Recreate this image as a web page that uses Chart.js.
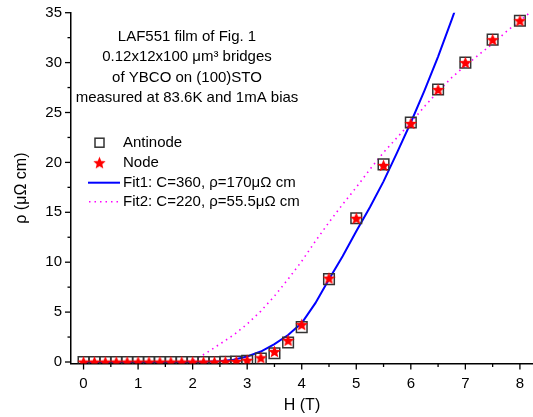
<!DOCTYPE html>
<html>
<head>
<meta charset="utf-8">
<script src="https://cdn.jsdelivr.net/npm/chart.js@4.4.0/dist/chart.umd.min.js"></script>
<style>
  body { margin: 0; background: #fff; }
  #wrap { width: 533px; height: 417px; }
</style>
</head>
<body>
<div id="wrap"><canvas id="rho" width="533" height="417"></canvas></div>
<script>
// measured points (H in tesla, rho in micro-ohm cm)
const hPts = [0, 0.2, 0.4, 0.6, 0.8, 1.0, 1.2, 1.4, 1.6, 1.8, 2.0, 2.2, 2.4, 2.6, 2.8, 3.0, 3.25, 3.5, 3.75, 4.0, 4.5, 5.0, 5.5, 6.0, 6.5, 7.0, 7.5, 8.0];
const rhoAntinode = [0, 0, 0, 0, 0, 0, 0, 0, 0, 0, 0, 0, 0, 0.02, 0.05, 0.12, 0.35, 0.87, 1.95, 3.5, 8.3, 14.4, 19.8, 24.0, 27.3, 30.0, 32.3, 34.2];
const rhoNode = [0, 0, 0, 0, 0, 0, 0, 0, 0, 0, 0, 0, 0, 0.03, 0.06, 0.17, 0.42, 1.05, 2.17, 3.75, 8.4, 14.4, 19.7, 23.9, 27.3, 30.0, 32.3, 34.2];

// fit curves
const fitH = [0, 0.25, 0.5, 0.75, 1.0, 1.25, 1.5, 1.75, 2.0, 2.25, 2.5, 2.75, 3.0, 3.25, 3.5, 3.75, 4.0, 4.25, 4.5, 4.75, 5.0, 5.25, 5.5, 5.75, 6.0, 6.25, 6.5, 6.75, 7.0, 7.25, 7.5, 7.75, 8.0, 8.25];
const fit1 = [0, 0, 0, 0, 0, 0, 0, 0, 0.01, 0.03, 0.08, 0.22, 0.55, 1.05, 1.8, 2.7, 3.9, 5.9, 8.3, 10.6, 13.1, 15.5, 18.1, 21.0, 24.0, 27.2, 30.6, 34.3, 38.2, null, null, null, null, null];
const fit2 = [0, 0, 0, 0, 0, 0, 0, 0, 0.1, 0.9, 1.8, 2.7, 3.8, 5.1, 6.6, 8.3, 10.1, 12.1, 14.0, 15.8, 17.5, 19.3, 21.0, 22.5, 24.0, 25.6, 27.1, 28.5, 29.7, 30.8, 31.9, 33.1, 34.2, 35.3];

const xMajor = [0, 1, 2, 3, 4, 5, 6, 7, 8];
const xMinor = [0.5, 1.5, 2.5, 3.5, 4.5, 5.5, 6.5, 7.5];
const yMajor = [0, 5, 10, 15, 20, 25, 30, 35];
const yMinor = [2.5, 7.5, 12.5, 17.5, 22.5, 27.5, 32.5];

const noteLines = ['LAF551 film of Fig. 1', '0.12x12x100 \u03bcm\u00b3 bridges', 'of YBCO on (100)STO', 'measured at 83.6K and 1mA bias'];
const legendLabels = ['Antinode', 'Node', 'Fit1: C=360, \u03c1=170\u03bc\u03a9 cm', 'Fit2: C=220, \u03c1=55.5\u03bc\u03a9 cm'];

const FONT = '"Liberation Sans", Arial, sans-serif';

// filled red star, chart.js "star" is only strokes
function makeStar(size, color) {
  const c = document.createElement('canvas');
  c.width = size; c.height = size;
  const g = c.getContext('2d');
  const cx = size / 2, cy = size / 2 + 0.5;
  const ro = size / 2, ri = ro * 0.45;
  g.beginPath();
  for (let i = 0; i < 10; i++) {
    const r = i % 2 ? ri : ro;
    const a = -Math.PI / 2 + i * Math.PI / 5;
    g.lineTo(cx + r * Math.cos(a), cy + r * Math.sin(a));
  }
  g.closePath();
  g.fillStyle = color;
  g.fill();
  return c;
}
const star = makeStar(13, '#ff0000');

const pairs = (xs, ys) => xs.map((x, i) => ({ x: x, y: ys[i] }));

// no label padding from the scales, the plot box is fixed
const fixPad = s => { s.paddingTop = 0; s.paddingBottom = 0; s.paddingLeft = 0; s.paddingRight = 0; };

const extras = {
  id: 'extras',
  afterDraw(chart) {
    const ctx = chart.ctx;
    const xs = chart.scales.x, ys = chart.scales.y;
    const area = chart.chartArea;
    ctx.save();
    ctx.strokeStyle = '#000';
    ctx.lineWidth = 1.3;
    // tick marks, pointing out of the plot
    const tickX = (v, len) => {
      const p = xs.getPixelForValue(v);
      ctx.beginPath(); ctx.moveTo(p, area.bottom); ctx.lineTo(p, area.bottom + len); ctx.stroke();
    };
    const tickY = (v, len) => {
      const p = ys.getPixelForValue(v);
      ctx.beginPath(); ctx.moveTo(area.left, p); ctx.lineTo(area.left - len, p); ctx.stroke();
    };
    xMajor.forEach(v => tickX(v, 6));
    xMinor.forEach(v => tickX(v, 3.5));
    yMajor.forEach(v => tickY(v, 6));
    yMinor.forEach(v => tickY(v, 3.5));

    ctx.fillStyle = '#000';
    ctx.font = '15px ' + FONT;
    ctx.textBaseline = 'middle';

    // note in the upper left
    ctx.textAlign = 'center';
    noteLines.forEach((t, i) => ctx.fillText(t, 187, 37 + i * 20.3));

    // legend
    const rows = [142.7, 162.7, 182.7, 201.7];
    ctx.textAlign = 'left';
    legendLabels.forEach((t, i) => ctx.fillText(t, 123, rows[i]));
    ctx.strokeStyle = '#333';
    ctx.lineWidth = 1.5;
    ctx.strokeRect(95, rows[0] - 4.5, 9, 9);
    ctx.drawImage(star, 93, rows[1] - 6.5);
    ctx.strokeStyle = '#0000ff';
    ctx.lineWidth = 2;
    ctx.beginPath(); ctx.moveTo(88, rows[2]); ctx.lineTo(120, rows[2]); ctx.stroke();
    ctx.strokeStyle = '#ff00ff';
    ctx.lineWidth = 1.6;
    ctx.setLineDash([1.5, 4]);
    ctx.beginPath(); ctx.moveTo(89, rows[3]); ctx.lineTo(120, rows[3]); ctx.stroke();
    ctx.setLineDash([]);

    // axis titles
    ctx.textAlign = 'center';
    ctx.font = '16px ' + FONT;
    ctx.fillText('H (T)', (area.left + area.right) / 2, 406);
    ctx.translate(22, (area.top + area.bottom) / 2);
    ctx.rotate(-Math.PI / 2);
    ctx.fillText('\u03c1 (\u03bc\u03a9 cm)', 0, 0);
    ctx.restore();
  }
};

new Chart(document.getElementById('rho'), {
  type: 'scatter',
  data: {
    datasets: [
      {
        label: 'Fit1',
        data: pairs(fitH, fit1),
        showLine: true,
        pointRadius: 0,
        borderColor: '#0000ff',
        borderWidth: 2,
        spanGaps: false,
        order: 3
      },
      {
        label: 'Fit2',
        data: pairs(fitH, fit2),
        showLine: true,
        pointRadius: 0,
        borderColor: '#ff00ff',
        borderWidth: 1.6,
        borderDash: [1.5, 4],
        order: 4
      },
      {
        label: 'Antinode',
        data: pairs(hPts, rhoAntinode),
        pointStyle: 'rect',
        pointRadius: 7.5,
        borderColor: '#333',
        borderWidth: 1.5,
        backgroundColor: 'rgba(0,0,0,0)',
        order: 2
      },
      {
        label: 'Node',
        data: pairs(hPts, rhoNode),
        pointStyle: star,
        pointRadius: 6,
        order: 1
      }
    ]
  },
  options: {
    responsive: false,
    animation: false,
    events: [],
    layout: { autoPadding: false, padding: { top: 12.7, right: 0, left: 0, bottom: 0 } },
    plugins: {
      legend: { display: false },
      tooltip: { enabled: false }
    },
    scales: {
      x: {
        type: 'linear',
        min: -0.23,
        max: 8.24,
        grid: { display: false, drawTicks: false },
        border: { display: true, color: '#000', width: 1.5 },
        ticks: { color: '#000', font: { family: FONT, size: 15 }, padding: 11 },
        afterBuildTicks: s => { s.ticks = xMajor.map(v => ({ value: v })); },
        afterFit: s => { s.height = 53.5; fixPad(s); }
      },
      y: {
        type: 'linear',
        min: -0.15,
        max: 35,
        grid: { display: false, drawTicks: false },
        border: { display: true, color: '#000', width: 1.5 },
        ticks: { color: '#000', font: { family: FONT, size: 15 }, padding: 9 },
        afterBuildTicks: s => { s.ticks = yMajor.map(v => ({ value: v })); },
        afterFit: s => { s.width = 71; fixPad(s); }
      }
    }
  },
  plugins: [extras]
});
</script>
</body>
</html>
